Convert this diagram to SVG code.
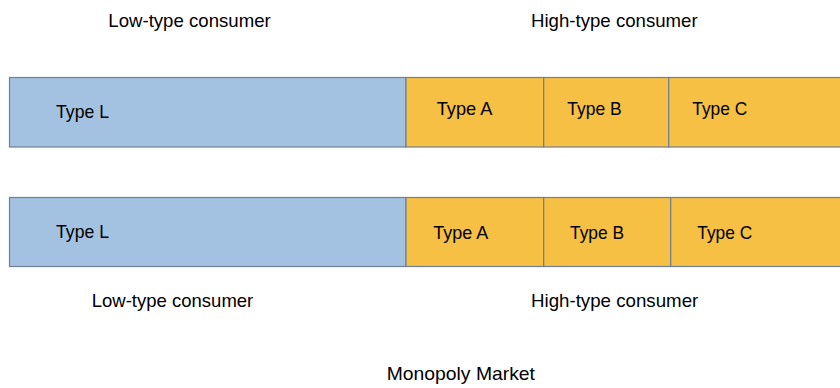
<svg xmlns="http://www.w3.org/2000/svg" width="840" height="388" viewBox="0 0 840 388">
<style>
.lo{fill:#a3c2e2;stroke:#6e7f96;stroke-width:1.2}
.hi{fill:#f5c043;stroke:#6e7f96;stroke-width:1.2}
text{font-family:"Liberation Sans",Arial,sans-serif;font-size:19px;fill:#000}
</style>
<rect width="840" height="388" fill="#fff"/>
<g id="top-bar">
<g id="top-L"><rect class="lo" x="9.5" y="77.5" width="396.5" height="69.5"/><text x="56" y="118.3" textLength="53" lengthAdjust="spacingAndGlyphs">Type L</text></g>
<g id="top-A"><rect class="hi" x="406" y="77.5" width="137.7" height="69.5"/><text x="436.7" y="115" textLength="55.7" lengthAdjust="spacingAndGlyphs">Type A</text></g>
<g id="top-B"><rect class="hi" x="543.7" y="77.5" width="125" height="69.5"/><text x="567.3" y="115" textLength="54.3" lengthAdjust="spacingAndGlyphs">Type B</text></g>
<g id="top-C"><rect class="hi" x="668.7" y="77.5" width="182" height="69.5"/><text x="692.3" y="115" textLength="55" lengthAdjust="spacingAndGlyphs">Type C</text></g>
</g>
<g id="bottom-bar">
<g id="bot-L"><rect class="lo" x="9.5" y="197.5" width="396.5" height="69"/><text x="56" y="238.3" textLength="53" lengthAdjust="spacingAndGlyphs">Type L</text></g>
<g id="bot-A"><rect class="hi" x="406" y="197.5" width="137.7" height="69"/><text x="433.3" y="239" textLength="55" lengthAdjust="spacingAndGlyphs">Type A</text></g>
<g id="bot-B"><rect class="hi" x="543.7" y="197.5" width="127" height="69"/><text x="570" y="239" textLength="54" lengthAdjust="spacingAndGlyphs">Type B</text></g>
<g id="bot-C"><rect class="hi" x="670.7" y="197.5" width="180" height="69"/><text x="697.3" y="239" textLength="55" lengthAdjust="spacingAndGlyphs">Type C</text></g>
</g>
<g id="labels">
<text x="108.3" y="27" textLength="162.4" lengthAdjust="spacingAndGlyphs">Low-type consumer</text>
<text x="531" y="27" textLength="166.7" lengthAdjust="spacingAndGlyphs">High-type consumer</text>
<text x="91.7" y="306.7" textLength="161.6" lengthAdjust="spacingAndGlyphs">Low-type consumer</text>
<text x="531" y="306.7" textLength="167.3" lengthAdjust="spacingAndGlyphs">High-type consumer</text>
<text x="386.7" y="380" textLength="148.3" lengthAdjust="spacingAndGlyphs">Monopoly Market</text>
</g>
<g id="connectors"/>
</svg>
